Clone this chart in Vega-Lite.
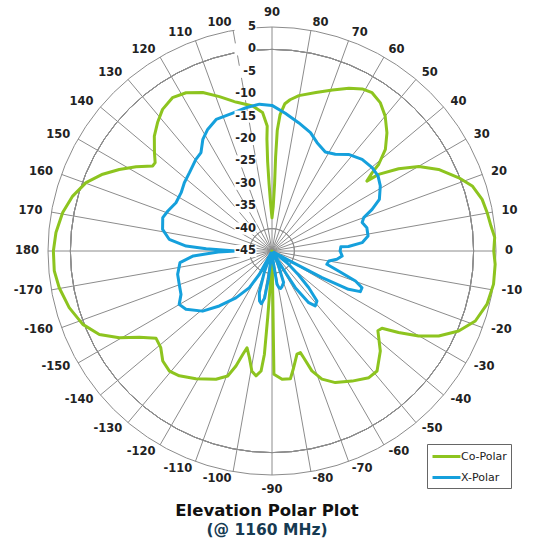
{
  "$schema": "https://vega.github.io/schema/vega-lite/v6.json",
  "width": 534,
  "height": 500,
  "padding": 0,
  "autosize": {"type": "pad"},
  "background": "white",
  "config": {"view": {"stroke": null}, "font": "DejaVu Sans"},
  "title": {
    "text": "Elevation Polar Plot",
    "subtitle": "(@ 1160 MHz)",
    "orient": "bottom",
    "anchor": "middle",
    "frame": "group",
    "font": "DejaVu Sans",
    "fontSize": 16.5,
    "fontWeight": "bold",
    "color": "#111111",
    "subtitleFont": "DejaVu Sans",
    "subtitleFontSize": 15.5,
    "subtitleFontWeight": "bold",
    "subtitleColor": "#163a52",
    "offset": 3,
    "subtitlePadding": 3
  },
  "datasets": {
    "rings": [{"v": -40}, {"v": -35}, {"v": -30}, {"v": -25}, {"v": -20}, {"v": -15}, {"v": -10}, {"v": -5}, {"v": 0}, {"v": 5}],
    "spokes": [{"a": 0}, {"a": 10}, {"a": 20}, {"a": 30}, {"a": 40}, {"a": 50}, {"a": 60}, {"a": 70}, {"a": 80}, {"a": 90}, {"a": 100}, {"a": 110}, {"a": 120}, {"a": 130}, {"a": 140}, {"a": 150}, {"a": 160}, {"a": 170}, {"a": 180}, {"a": 190}, {"a": 200}, {"a": 210}, {"a": 220}, {"a": 230}, {"a": 240}, {"a": 250}, {"a": 260}, {"a": 270}, {"a": 280}, {"a": 290}, {"a": 300}, {"a": 310}, {"a": 320}, {"a": 330}, {"a": 340}, {"a": 350}],
    "ringlabels": [{"v": 5, "lab": "5"}, {"v": 0, "lab": "0"}, {"v": -5, "lab": "-5"}, {"v": -10, "lab": "-10"}, {"v": -15, "lab": "-15"}, {"v": -20, "lab": "-20"}, {"v": -25, "lab": "-25"}, {"v": -30, "lab": "-30"}, {"v": -35, "lab": "-35"}, {"v": -40, "lab": "-40"}, {"v": -45, "lab": "-45"}],
    "anglabels": [
      {"a": 0, "lab": "0"}, {"a": 10, "lab": "10"}, {"a": 20, "lab": "20"}, {"a": 30, "lab": "30"}, {"a": 40, "lab": "40"}, {"a": 50, "lab": "50"}, {"a": 60, "lab": "60"}, {"a": 70, "lab": "70"}, {"a": 80, "lab": "80"}, {"a": 90, "lab": "90"},
      {"a": 100, "lab": "100"}, {"a": 110, "lab": "110"}, {"a": 120, "lab": "120"}, {"a": 130, "lab": "130"}, {"a": 140, "lab": "140"}, {"a": 150, "lab": "150"}, {"a": 160, "lab": "160"}, {"a": 170, "lab": "170"}, {"a": 180, "lab": "180"},
      {"a": -170, "lab": "-170"}, {"a": -160, "lab": "-160"}, {"a": -150, "lab": "-150"}, {"a": -140, "lab": "-140"}, {"a": -130, "lab": "-130"}, {"a": -120, "lab": "-120"}, {"a": -110, "lab": "-110"}, {"a": -100, "lab": "-100"}, {"a": -90, "lab": "-90"},
      {"a": -80, "lab": "-80"}, {"a": -70, "lab": "-70"}, {"a": -60, "lab": "-60"}, {"a": -50, "lab": "-50"}, {"a": -40, "lab": "-40"}, {"a": -30, "lab": "-30"}, {"a": -20, "lab": "-20"}, {"a": -10, "lab": "-10"}
    ],
    "curves": [
      {"s": "Co-Polar", "a": 0, "v": 4.5}, {"s": "Co-Polar", "a": 3.5, "v": 4.8}, {"s": "Co-Polar", "a": 6.5, "v": 4.2}, {"s": "Co-Polar", "a": 10, "v": 3.8}, {"s": "Co-Polar", "a": 13.8, "v": 3.3}, {"s": "Co-Polar", "a": 18, "v": 2.0}, {"s": "Co-Polar", "a": 21.4, "v": -0.2}, {"s": "Co-Polar", "a": 26.1, "v": -3.6}, {"s": "Co-Polar", "a": 29.9, "v": -7.2}, {"s": "Co-Polar", "a": 33, "v": -11.3}, {"s": "Co-Polar", "a": 35.7, "v": -15.7}, {"s": "Co-Polar", "a": 36.4, "v": -18.7}, {"s": "Co-Polar", "a": 38, "v": -16.6}, {"s": "Co-Polar", "a": 39.1, "v": -14.3}, {"s": "Co-Polar", "a": 41.9, "v": -11.0}, {"s": "Co-Polar", "a": 45.8, "v": -8.2}, {"s": "Co-Polar", "a": 50, "v": -5.7}, {"s": "Co-Polar", "a": 53.9, "v": -4.0}, {"s": "Co-Polar", "a": 57.7, "v": -3.2}, {"s": "Co-Polar", "a": 60.9, "v": -3.6}, {"s": "Co-Polar", "a": 64.7, "v": -4.8}, {"s": "Co-Polar", "a": 69.4, "v": -6.6}, {"s": "Co-Polar", "a": 74.5, "v": -8.3}, {"s": "Co-Polar", "a": 80.2, "v": -9.8}, {"s": "Co-Polar", "a": 83.2, "v": -11.0}, {"s": "Co-Polar", "a": 85, "v": -12.0}, {"s": "Co-Polar", "a": 86.6, "v": -14.5}, {"s": "Co-Polar", "a": 87.5, "v": -18}, {"s": "Co-Polar", "a": 87.8, "v": -24}, {"s": "Co-Polar", "a": 87.8, "v": -30}, {"s": "Co-Polar", "a": 88.4, "v": -35}, {"s": "Co-Polar", "a": 90, "v": -37.6}, {"s": "Co-Polar", "a": 91.5, "v": -35}, {"s": "Co-Polar", "a": 92.5, "v": -30}, {"s": "Co-Polar", "a": 92.8, "v": -25}, {"s": "Co-Polar", "a": 92.6, "v": -20}, {"s": "Co-Polar", "a": 92.2, "v": -17.1}, {"s": "Co-Polar", "a": 93.9, "v": -14.0}, {"s": "Co-Polar", "a": 97.6, "v": -12.35}, {"s": "Co-Polar", "a": 103.6, "v": -10.8}, {"s": "Co-Polar", "a": 108.8, "v": -8.6}, {"s": "Co-Polar", "a": 113.6, "v": -6.4}, {"s": "Co-Polar", "a": 118.5, "v": -4.8}, {"s": "Co-Polar", "a": 123, "v": -4.2}, {"s": "Co-Polar", "a": 127.7, "v": -5.05}, {"s": "Co-Polar", "a": 131.7, "v": -6.6}, {"s": "Co-Polar", "a": 135.7, "v": -8.3}, {"s": "Co-Polar", "a": 140.1, "v": -10.8}, {"s": "Co-Polar", "a": 142.9, "v": -12.3}, {"s": "Co-Polar", "a": 144.5, "v": -12.3}, {"s": "Co-Polar", "a": 148.2, "v": -9.3}, {"s": "Co-Polar", "a": 151.9, "v": -6.35}, {"s": "Co-Polar", "a": 155.6, "v": -3.5}, {"s": "Co-Polar", "a": 159.8, "v": -0.77}, {"s": "Co-Polar", "a": 164.6, "v": 1.15}, {"s": "Co-Polar", "a": 169.6, "v": 2.5}, {"s": "Co-Polar", "a": 175.1, "v": 3.4}, {"s": "Co-Polar", "a": 180, "v": 3.8}, {"s": "Co-Polar", "a": 185.2, "v": 3.8}, {"s": "Co-Polar", "a": 189.8, "v": 3.2}, {"s": "Co-Polar", "a": 195.6, "v": 2.0}, {"s": "Co-Polar", "a": 201.2, "v": 0.3}, {"s": "Co-Polar", "a": 205.8, "v": -2.2}, {"s": "Co-Polar", "a": 209.6, "v": -5.8}, {"s": "Co-Polar", "a": 213, "v": -9.7}, {"s": "Co-Polar", "a": 217, "v": -12.6}, {"s": "Co-Polar", "a": 221, "v": -12.1}, {"s": "Co-Polar", "a": 225.2, "v": -10.4}, {"s": "Co-Polar", "a": 229.5, "v": -9.75}, {"s": "Co-Polar", "a": 233.4, "v": -10.3}, {"s": "Co-Polar", "a": 239.2, "v": -11.8}, {"s": "Co-Polar", "a": 246.4, "v": -13.75}, {"s": "Co-Polar", "a": 250.5, "v": -15.4}, {"s": "Co-Polar", "a": 252.6, "v": -18.1}, {"s": "Co-Polar", "a": 254.2, "v": -21.0}, {"s": "Co-Polar", "a": 255.5, "v": -22.7}, {"s": "Co-Polar", "a": 258, "v": -20.7}, {"s": "Co-Polar", "a": 260.5, "v": -17.8}, {"s": "Co-Polar", "a": 262.7, "v": -16.9}, {"s": "Co-Polar", "a": 264.8, "v": -18.1}, {"s": "Co-Polar", "a": 265.8, "v": -21.9}, {"s": "Co-Polar", "a": 266.3, "v": -30.1}, {"s": "Co-Polar", "a": 267, "v": -37}, {"s": "Co-Polar", "a": 270, "v": -45}, {"s": "Co-Polar", "a": 271, "v": -35}, {"s": "Co-Polar", "a": 270.9, "v": -25}, {"s": "Co-Polar", "a": 270.9, "v": -17.5}, {"s": "Co-Polar", "a": 274.5, "v": -16.3}, {"s": "Co-Polar", "a": 278.2, "v": -16.2}, {"s": "Co-Polar", "a": 280.5, "v": -18.5}, {"s": "Co-Polar", "a": 283.6, "v": -21.3}, {"s": "Co-Polar", "a": 285.6, "v": -21.45}, {"s": "Co-Polar", "a": 286.5, "v": -20.2}, {"s": "Co-Polar", "a": 288.4, "v": -16.8}, {"s": "Co-Polar", "a": 291.3, "v": -14.3}, {"s": "Co-Polar", "a": 295.7, "v": -12.4}, {"s": "Co-Polar", "a": 301.6, "v": -10.9}, {"s": "Co-Polar", "a": 307.4, "v": -9.4}, {"s": "Co-Polar", "a": 311.2, "v": -9.4}, {"s": "Co-Polar", "a": 317.3, "v": -12.1}, {"s": "Co-Polar", "a": 323, "v": -15.4}, {"s": "Co-Polar", "a": 324.9, "v": -15.0}, {"s": "Co-Polar", "a": 327.2, "v": -11.4}, {"s": "Co-Polar", "a": 329.9, "v": -7.16}, {"s": "Co-Polar", "a": 333, "v": -3.24}, {"s": "Co-Polar", "a": 336.8, "v": 0.33}, {"s": "Co-Polar", "a": 341, "v": 3.0}, {"s": "Co-Polar", "a": 346.1, "v": 4.44}, {"s": "Co-Polar", "a": 351.5, "v": 5.0}, {"s": "Co-Polar", "a": 356.6, "v": 4.9}, {"s": "Co-Polar", "a": 360, "v": 4.5},
      {"s": "X-Polar", "a": 0, "v": -29.8}, {"s": "X-Polar", "a": 3.6, "v": -29.6}, {"s": "X-Polar", "a": 3.4, "v": -27.9}, {"s": "X-Polar", "a": 5.3, "v": -24.8}, {"s": "X-Polar", "a": 8.9, "v": -23.3}, {"s": "X-Polar", "a": 13.8, "v": -23.2}, {"s": "X-Polar", "a": 17.5, "v": -23.9}, {"s": "X-Polar", "a": 20, "v": -23.2}, {"s": "X-Polar", "a": 22.6, "v": -20.8}, {"s": "X-Polar", "a": 25.7, "v": -18.4}, {"s": "X-Polar", "a": 31, "v": -16.8}, {"s": "X-Polar", "a": 35.3, "v": -16.0}, {"s": "X-Polar", "a": 39.8, "v": -15.9}, {"s": "X-Polar", "a": 45.5, "v": -16.3}, {"s": "X-Polar", "a": 51.6, "v": -17.5}, {"s": "X-Polar", "a": 56.8, "v": -19.2}, {"s": "X-Polar", "a": 61.7, "v": -19.9}, {"s": "X-Polar", "a": 67.4, "v": -18.8}, {"s": "X-Polar", "a": 72, "v": -17.2}, {"s": "X-Polar", "a": 78.3, "v": -15.75}, {"s": "X-Polar", "a": 84.5, "v": -14.1}, {"s": "X-Polar", "a": 90, "v": -12.5}, {"s": "X-Polar", "a": 94.9, "v": -12.1}, {"s": "X-Polar", "a": 100.3, "v": -12.5}, {"s": "X-Polar", "a": 105.9, "v": -13.0}, {"s": "X-Polar", "a": 113, "v": -13.1}, {"s": "X-Polar", "a": 117.9, "v": -14.3}, {"s": "X-Polar", "a": 121.8, "v": -15.7}, {"s": "X-Polar", "a": 125.8, "v": -17.9}, {"s": "X-Polar", "a": 129.7, "v": -18.4}, {"s": "X-Polar", "a": 136.5, "v": -19.6}, {"s": "X-Polar", "a": 142.1, "v": -20.2}, {"s": "X-Polar", "a": 147.3, "v": -20.9}, {"s": "X-Polar", "a": 153.3, "v": -21.0}, {"s": "X-Polar", "a": 159, "v": -20.1}, {"s": "X-Polar", "a": 163, "v": -19.5}, {"s": "X-Polar", "a": 168.8, "v": -20.1}, {"s": "X-Polar", "a": 173.5, "v": -21.9}, {"s": "X-Polar", "a": 176.7, "v": -25.8}, {"s": "X-Polar", "a": 178, "v": -30.3}, {"s": "X-Polar", "a": 179, "v": -34.7}, {"s": "X-Polar", "a": 180, "v": -37}, {"s": "X-Polar", "a": 181, "v": -33}, {"s": "X-Polar", "a": 183.6, "v": -27.4}, {"s": "X-Polar", "a": 187.2, "v": -24.3}, {"s": "X-Polar", "a": 193.9, "v": -23.3}, {"s": "X-Polar", "a": 199.8, "v": -23.0}, {"s": "X-Polar", "a": 205.5, "v": -22.5}, {"s": "X-Polar", "a": 209.9, "v": -21.1}, {"s": "X-Polar", "a": 214.1, "v": -21.8}, {"s": "X-Polar", "a": 220.9, "v": -24.5}, {"s": "X-Polar", "a": 226.2, "v": -28.0}, {"s": "X-Polar", "a": 232.4, "v": -31.8}, {"s": "X-Polar", "a": 238.3, "v": -35.4}, {"s": "X-Polar", "a": 241.5, "v": -39.1}, {"s": "X-Polar", "a": 245, "v": -44.5}, {"s": "X-Polar", "a": 250, "v": -40}, {"s": "X-Polar", "a": 253, "v": -35.3}, {"s": "X-Polar", "a": 256, "v": -33.5}, {"s": "X-Polar", "a": 258.5, "v": -33.0}, {"s": "X-Polar", "a": 261, "v": -34.3}, {"s": "X-Polar", "a": 262.7, "v": -38.6}, {"s": "X-Polar", "a": 264, "v": -44.5}, {"s": "X-Polar", "a": 276, "v": -43}, {"s": "X-Polar", "a": 278.5, "v": -37.5}, {"s": "X-Polar", "a": 281, "v": -36.6}, {"s": "X-Polar", "a": 283, "v": -36.4}, {"s": "X-Polar", "a": 286, "v": -36.8}, {"s": "X-Polar", "a": 290.2, "v": -37.5}, {"s": "X-Polar", "a": 295, "v": -42}, {"s": "X-Polar", "a": 299, "v": -44.5}, {"s": "X-Polar", "a": 302, "v": -39}, {"s": "X-Polar", "a": 302.4, "v": -35.3}, {"s": "X-Polar", "a": 305.4, "v": -30.85}, {"s": "X-Polar", "a": 308.2, "v": -29.4}, {"s": "X-Polar", "a": 312, "v": -30}, {"s": "X-Polar", "a": 315, "v": -33.4}, {"s": "X-Polar", "a": 318, "v": -37}, {"s": "X-Polar", "a": 321.3, "v": -40.2}, {"s": "X-Polar", "a": 326, "v": -44.5}, {"s": "X-Polar", "a": 331, "v": -40}, {"s": "X-Polar", "a": 331.9, "v": -32.35}, {"s": "X-Polar", "a": 333.4, "v": -25.9}, {"s": "X-Polar", "a": 335.3, "v": -23.3}, {"s": "X-Polar", "a": 337.8, "v": -23.3}, {"s": "X-Polar", "a": 340.2, "v": -25.2}, {"s": "X-Polar", "a": 343.3, "v": -29.5}, {"s": "X-Polar", "a": 346.4, "v": -32.4}, {"s": "X-Polar", "a": 350, "v": -32.1}, {"s": "X-Polar", "a": 352.7, "v": -30.4}, {"s": "X-Polar", "a": 355.9, "v": -29.3}, {"s": "X-Polar", "a": 360, "v": -29.8}
    ]
  },
  "layer": [
    {
      "data": {"name": "rings"},
      "mark": {"type": "arc", "theta": 0, "theta2": 6.2832, "filled": false, "stroke": "#8c8c8c", "strokeWidth": 1},
      "encoding": {
        "x": {"datum": 0, "type": "quantitative", "scale": {"domain": [-272, 262], "nice": false, "zero": false}, "axis": null},
        "y": {"datum": 0, "type": "quantitative", "scale": {"domain": [-249, 251], "nice": false, "zero": false}, "axis": null},
        "radius": {"field": "v", "type": "quantitative", "scale": {"type": "linear", "domain": [-45, 5], "range": [0, 224], "zero": false}, "legend": null}
      }
    },
    {
      "data": {"name": "spokes"},
      "transform": [
        {"calculate": "(5 + 45) * 4.48 * cos(datum.a * PI / 180)", "as": "ex"},
        {"calculate": "(5 + 45) * 4.48 * sin(datum.a * PI / 180)", "as": "ey"}
      ],
      "mark": {"type": "rule", "stroke": "#8c8c8c", "strokeWidth": 1},
      "encoding": {
        "x": {"field": "ex", "type": "quantitative", "scale": {"domain": [-272, 262], "nice": false, "zero": false}, "axis": null},
        "y": {"field": "ey", "type": "quantitative", "scale": {"domain": [-249, 251], "nice": false, "zero": false}, "axis": null},
        "x2": {"datum": 0},
        "y2": {"datum": 0}
      }
    },
    {
      "data": {"name": "curves"},
      "transform": [
        {"calculate": "(datum.v + 45) * 4.48", "as": "r"},
        {"calculate": "datum.r * cos(datum.a * PI / 180)", "as": "px"},
        {"calculate": "datum.r * sin(datum.a * PI / 180)", "as": "py"}
      ],
      "mark": {"type": "line", "strokeWidth": 3, "strokeJoin": "round", "strokeCap": "round"},
      "encoding": {
        "x": {"field": "px", "type": "quantitative", "scale": {"domain": [-272, 262], "nice": false, "zero": false}, "axis": null},
        "y": {"field": "py", "type": "quantitative", "scale": {"domain": [-249, 251], "nice": false, "zero": false}, "axis": null},
        "order": {"value": null},
        "color": {
          "field": "s", "type": "nominal",
          "scale": {"domain": ["Co-Polar", "X-Polar"], "range": ["#8dc41f", "#15a0dc"]},
          "legend": {
            "title": null, "orient": "none", "legendX": 427, "legendY": 444,
            "symbolType": "M-2,0L2,0", "symbolSize": 196, "symbolStrokeWidth": 3, "symbolOffset": 7,
            "labelFont": "DejaVu Sans", "labelFontSize": 11, "labelColor": "#222222",
            "strokeColor": "#666666", "fillColor": "white", "padding": 4, "rowPadding": 6,
            "labelOffset": 6, "cornerRadius": 0
          }
        }
      }
    },
    {
      "data": {"name": "ringlabels"},
      "transform": [{"calculate": "(datum.v + 45) * 4.48", "as": "ry"}],
      "mark": {"type": "point", "shape": "M-1,-0.55L1,-0.55L1,0.55L-1,0.55Z", "filled": true, "fill": "white", "opacity": 1, "strokeWidth": 0, "size": 484},
      "encoding": {
        "x": {"datum": -26.5, "type": "quantitative", "scale": {"domain": [-272, 262], "nice": false, "zero": false}, "axis": null},
        "y": {"field": "ry", "type": "quantitative", "scale": {"domain": [-249, 251], "nice": false, "zero": false}, "axis": null}
      }
    },
    {
      "data": {"name": "ringlabels"},
      "transform": [{"calculate": "(datum.v + 45) * 4.48", "as": "ry"}],
      "mark": {"type": "text", "align": "right", "baseline": "middle", "dx": -16, "font": "DejaVu Sans", "fontWeight": "bold", "fontSize": 11.5, "color": "#222222"},
      "encoding": {
        "x": {"datum": 0, "type": "quantitative", "scale": {"domain": [-272, 262], "nice": false, "zero": false}, "axis": null},
        "y": {"field": "ry", "type": "quantitative", "scale": {"domain": [-249, 251], "nice": false, "zero": false}, "axis": null},
        "text": {"field": "lab"}
      }
    },
    {
      "data": {"name": "anglabels"},
      "transform": [
        {"filter": "datum.a > -90 && datum.a < 90"},
        {"calculate": "233 * cos(datum.a * PI / 180)", "as": "lx"},
        {"calculate": "232 * sin(datum.a * PI / 180)", "as": "ly"}
      ],
      "mark": {"type": "text", "align": "left", "baseline": "middle", "font": "DejaVu Sans", "fontWeight": "bold", "fontSize": 11.5, "color": "#222222"},
      "encoding": {
        "x": {"field": "lx", "type": "quantitative", "scale": {"domain": [-272, 262], "nice": false, "zero": false}, "axis": null},
        "y": {"field": "ly", "type": "quantitative", "scale": {"domain": [-249, 251], "nice": false, "zero": false}, "axis": null},
        "text": {"field": "lab"}
      }
    },
    {
      "data": {"name": "anglabels"},
      "transform": [
        {"filter": "datum.a > 90 || datum.a < -90"},
        {"calculate": "233 * cos(datum.a * PI / 180)", "as": "lx"},
        {"calculate": "232 * sin(datum.a * PI / 180)", "as": "ly"}
      ],
      "mark": {"type": "text", "align": "right", "baseline": "middle", "font": "DejaVu Sans", "fontWeight": "bold", "fontSize": 11.5, "color": "#222222"},
      "encoding": {
        "x": {"field": "lx", "type": "quantitative", "scale": {"domain": [-272, 262], "nice": false, "zero": false}, "axis": null},
        "y": {"field": "ly", "type": "quantitative", "scale": {"domain": [-249, 251], "nice": false, "zero": false}, "axis": null},
        "text": {"field": "lab"}
      }
    },
    {
      "data": {"name": "anglabels"},
      "transform": [
        {"filter": "datum.a == 90"},
        {"calculate": "233 * cos(datum.a * PI / 180)", "as": "lx"},
        {"calculate": "233 * sin(datum.a * PI / 180)", "as": "ly"}
      ],
      "mark": {"type": "text", "align": "center", "baseline": "bottom", "font": "DejaVu Sans", "fontWeight": "bold", "fontSize": 11.5, "color": "#222222"},
      "encoding": {
        "x": {"field": "lx", "type": "quantitative", "scale": {"domain": [-272, 262], "nice": false, "zero": false}, "axis": null},
        "y": {"field": "ly", "type": "quantitative", "scale": {"domain": [-249, 251], "nice": false, "zero": false}, "axis": null},
        "text": {"field": "lab"}
      }
    },
    {
      "data": {"name": "anglabels"},
      "transform": [
        {"filter": "datum.a == -90"},
        {"calculate": "233 * cos(datum.a * PI / 180)", "as": "lx"},
        {"calculate": "233 * sin(datum.a * PI / 180)", "as": "ly"}
      ],
      "mark": {"type": "text", "align": "center", "baseline": "top", "font": "DejaVu Sans", "fontWeight": "bold", "fontSize": 11.5, "color": "#222222"},
      "encoding": {
        "x": {"field": "lx", "type": "quantitative", "scale": {"domain": [-272, 262], "nice": false, "zero": false}, "axis": null},
        "y": {"field": "ly", "type": "quantitative", "scale": {"domain": [-249, 251], "nice": false, "zero": false}, "axis": null},
        "text": {"field": "lab"}
      }
    }
  ]
}
